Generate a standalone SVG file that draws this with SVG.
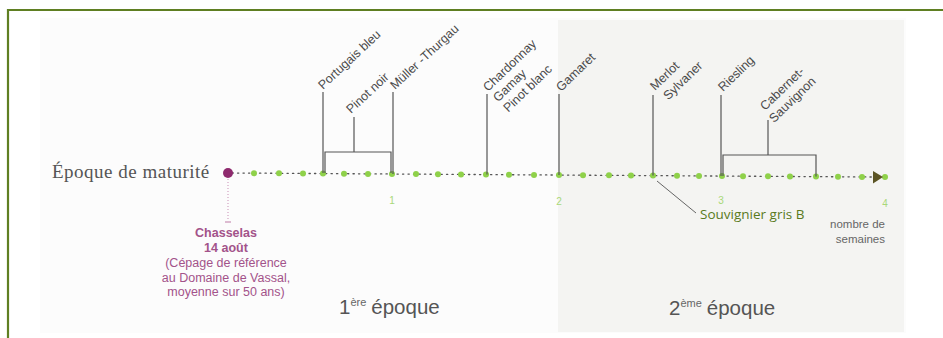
<svg xmlns="http://www.w3.org/2000/svg" width="943" height="338" viewBox="0 0 943 338">
<defs>
<style>
.lbl{font-family:"Liberation Sans","DejaVu Sans",sans-serif;font-size:12.5px;fill:#4a4a4a}
.tick{stroke:#555;stroke-width:1.2;fill:none}
.gdot{fill:#8fd14a}
.num{font-family:"Liberation Sans",sans-serif;font-size:10px;fill:#a8d878;text-anchor:middle}
.ch{font-family:"Liberation Sans",sans-serif;font-size:12.5px;fill:#a3538a;text-anchor:middle}
.ep{font-family:"Liberation Sans",sans-serif;font-size:20.5px;fill:#555}
</style>
</defs>
<rect x="0" y="0" width="943" height="338" fill="#ffffff"/>
<rect x="40" y="18" width="866" height="315" fill="#fcfcfc"/>
<rect x="558" y="20" width="346" height="312" fill="#f4f4f2"/>
<path d="M8 338 V10 H943" fill="none" stroke="#5f7f22" stroke-width="2.2"/>

<g id="axis">
<text x="52" y="178" font-family="Liberation Serif,serif" font-size="19" letter-spacing="0.5" fill="#555">Époque de maturité</text>
<line x1="232" y1="173" x2="872" y2="177" stroke="#555" stroke-width="1.3" stroke-dasharray="1.3 4.2" stroke-linecap="round"/>
<g class="gdot">
<circle cx="254" cy="173.2" r="3"/><circle cx="279" cy="173.3" r="3"/><circle cx="303" cy="173.5" r="3"/><circle cx="323" cy="173.6" r="3"/><circle cx="344" cy="173.7" r="3"/><circle cx="368" cy="173.9" r="3"/><circle cx="392" cy="174" r="3"/><circle cx="416" cy="174.1" r="3"/><circle cx="438" cy="174.3" r="3"/><circle cx="461" cy="174.4" r="3"/><circle cx="486" cy="174.6" r="3"/><circle cx="509" cy="174.7" r="3"/><circle cx="534" cy="174.9" r="3"/><circle cx="559" cy="175" r="3"/><circle cx="583" cy="175.2" r="3"/><circle cx="609" cy="175.3" r="3"/><circle cx="631" cy="175.5" r="3"/><circle cx="653" cy="175.6" r="3"/><circle cx="677" cy="175.7" r="3"/><circle cx="699" cy="175.9" r="3"/><circle cx="722" cy="176" r="3"/><circle cx="743" cy="176.2" r="3"/><circle cx="768" cy="176.3" r="3"/><circle cx="790" cy="176.5" r="3"/><circle cx="816" cy="176.6" r="3"/><circle cx="838" cy="176.8" r="3"/><circle cx="862" cy="176.9" r="3"/><circle cx="885" cy="177" r="3"/>
</g>
<polygon points="873,171 883,177 873,183.5" fill="#5b5424"/>
<text class="num" x="392" y="204">1</text>
<text class="num" x="559" y="205">2</text>
<text class="num" x="721" y="204">3</text>
<text class="num" x="885" y="207">4</text>
<text x="885" y="228" font-family="Liberation Sans,sans-serif" font-size="11.5" fill="#666" text-anchor="end">nombre de</text>
<text x="885" y="243" font-family="Liberation Sans,sans-serif" font-size="11.5" fill="#666" text-anchor="end">semaines</text>
</g>

<g id="chasselas">
<line x1="228" y1="179" x2="228" y2="221" stroke="#c98fb5" stroke-width="1" stroke-dasharray="1 2"/>
<line x1="225" y1="222" x2="231" y2="222" stroke="#c98fb5" stroke-width="1.2"/>
<circle cx="228" cy="173" r="5" fill="#8e2a6e"/>
<text class="ch" x="226" y="237" font-weight="bold">Chasselas</text>
<text class="ch" x="226" y="252" font-weight="bold">14 août</text>
<text class="ch" x="226" y="267">(Cépage de référence</text>
<text class="ch" x="226" y="282">au Domaine de Vassal,</text>
<text class="ch" x="226" y="296">moyenne sur 50 ans)</text>
</g>

<g id="connectors" class="tick">
<line x1="323" y1="92" x2="323" y2="173"/>
<line x1="354" y1="117" x2="354" y2="152"/>
<polyline points="325,173 325,152 391,152 391,173"/>
<line x1="393" y1="92" x2="393" y2="174"/>
<line x1="487" y1="94" x2="487" y2="174.6"/>
<line x1="559" y1="94" x2="559" y2="175"/>
<line x1="653" y1="95" x2="653" y2="175.6"/>
<line x1="721" y1="95" x2="721" y2="176"/>
<line x1="768" y1="120" x2="768" y2="155"/>
<polyline points="723,176 723,155 816,155 816,176.6"/>
<line x1="657" y1="181" x2="696" y2="213" stroke-width="0.9"/>
</g>

<g id="portugais-bleu"><text class="lbl" transform="translate(323,90) rotate(-43)">Portugais bleu</text></g>
<g id="pinot-noir"><text class="lbl" transform="translate(351,114) rotate(-43)">Pinot noir</text></g>
<g id="muller-thurgau"><text class="lbl" transform="translate(395,90) rotate(-43)">Müller -Thurgau</text></g>
<g id="chardonnay"><text class="lbl" transform="translate(488,92) rotate(-44)"><tspan x="0" y="0">Chardonnay</tspan><tspan x="0" y="14.5">Gamay</tspan><tspan x="0" y="29">Pinot blanc</tspan></text></g>
<g id="gamaret"><text class="lbl" transform="translate(561,92) rotate(-44)">Gamaret</text></g>
<g id="merlot"><text class="lbl" transform="translate(655,91) rotate(-44)"><tspan x="0" y="0">Merlot</tspan><tspan x="3" y="16">Sylvaner</tspan></text></g>
<g id="riesling"><text class="lbl" transform="translate(723,92) rotate(-44)">Riesling</text></g>
<g id="cabernet"><text class="lbl" transform="translate(765,111) rotate(-44)"><tspan x="0" y="0">Cabernet-</tspan><tspan x="-2" y="15">Sauvignon</tspan></text></g>
<g id="souvignier"><text x="700" y="219" font-family="Open Sans,Liberation Sans,sans-serif" font-size="13.5" fill="#5a7a1c">Souvignier gris B</text></g>

<g id="epoques">
<text class="ep" x="339" y="314">1<tspan font-size="11" dy="-8" fill="#666">ère</tspan><tspan dy="8" dx="5">époque</tspan></text>
<text class="ep" x="669" y="315">2<tspan font-size="11" dy="-8" fill="#666">ème</tspan><tspan dy="8" dx="5">époque</tspan></text>
</g>
</svg>
